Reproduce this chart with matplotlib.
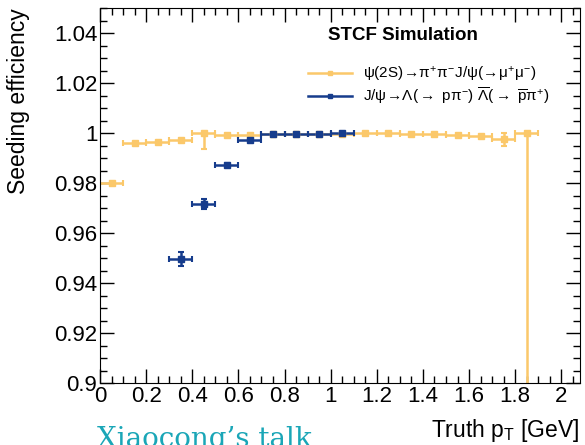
import matplotlib
matplotlib.use("Agg")
import matplotlib.pyplot as plt
from matplotlib.ticker import MultipleLocator
from matplotlib.lines import Line2D

plt.rcParams['font.family'] = ['Liberation Sans', 'DejaVu Sans']
plt.rcParams['mathtext.fontset'] = 'custom'
plt.rcParams['mathtext.rm'] = 'Liberation Sans'
plt.rcParams['mathtext.it'] = 'Liberation Sans'

# psi(2S) -> pi pi J/psi(-> mu mu), bins of 0.1 GeV
psi_pt = [0.05, 0.15, 0.25, 0.35, 0.45, 0.55, 0.65, 0.75, 0.85, 0.95, 1.05,
          1.15, 1.25, 1.35, 1.45, 1.55, 1.65, 1.75, 1.85]
psi_eff = [0.980, 0.9961, 0.9966, 0.9972, 1.000, 0.9994, 0.9994, 0.9996, 0.9996,
           0.9996, 0.9998, 1.000, 1.000, 0.9997, 0.9996, 0.9992, 0.9987, 0.9977, 1.000]
psi_err_lo = [0.0003, 0.0003, 0.0003, 0.0003, 0.0064, 0.0003, 0.0002, 0.0001, 0.0001,
              0.0001, 0.0001, 0.0001, 0.0001, 0.0001, 0.0002, 0.0002, 0.0003, 0.0027, 0.2]
psi_err_hi = [0.0003, 0.0003, 0.0003, 0.0003, 0.0, 0.0003, 0.0002, 0.0001, 0.0001,
              0.0001, 0.0001, 0.0, 0.0, 0.0001, 0.0002, 0.0002, 0.0003, 0.0023, 0.0]

# J/psi -> Lambda Lambdabar
lam_pt = [0.35, 0.45, 0.55, 0.65, 0.75, 0.85, 0.95, 1.05]
lam_eff = [0.9496, 0.9716, 0.9873, 0.9971, 0.9996, 0.9996, 0.9996, 0.9999]
lam_err = [0.0027, 0.0020, 0.0007, 0.0004, 0.0002, 0.0002, 0.0002, 0.0001]

bin_half = 0.05

yellow = '#fbc86a'
blue = '#163c8c'

fig = plt.figure(figsize=(5.85, 4.45), dpi=100)
ax = fig.add_axes([0.171, 0.139, 0.820, 0.843])

ax.errorbar(psi_pt, psi_eff, yerr=[psi_err_lo, psi_err_hi], xerr=bin_half,
            fmt='s', color=yellow, ms=4, lw=1.8, capsize=2, capthick=1.5)
ax.errorbar(lam_pt, lam_eff, yerr=lam_err, xerr=bin_half,
            fmt='s', color=blue, ms=4, lw=1.8, capsize=2, capthick=1.5)

ax.set_xlim(0, 2.08)
ax.set_ylim(0.9, 1.05)
ax.xaxis.set_minor_locator(MultipleLocator(0.05))
ax.yaxis.set_minor_locator(MultipleLocator(0.005))
ax.set_xticks([0, 0.2, 0.4, 0.6, 0.8, 1, 1.2, 1.4, 1.6, 1.8, 2])
ax.set_xticklabels(['0', '0.2', '0.4', '0.6', '0.8', '1', '1.2', '1.4', '1.6', '1.8', '2'])
ax.set_yticks([0.9, 0.92, 0.94, 0.96, 0.98, 1.0, 1.02, 1.04])
ax.set_yticklabels(['0.9', '0.92', '0.94', '0.96', '0.98', '1', '1.02', '1.04'])
ax.tick_params(which='both', direction='in', top=True, right=True, labelsize=16, width=1)
ax.tick_params(which='major', length=10, pad=2)
ax.tick_params(which='minor', length=5)

ax.set_ylabel('Seeding efficiency', fontsize=16.5, loc='top')
ax.yaxis.set_label_coords(-0.145, 1.0)
ax.set_xlabel(r'Truth p$_{\mathrm{T}}$ [GeV]', fontsize=16.5, loc='right')
ax.xaxis.set_label_coords(1.0, -0.09)

ax.text(0.475, 0.915, 'STCF Simulation', transform=ax.transAxes,
        fontsize=13.5, fontweight='bold')

handles = [Line2D([0], [0], color=yellow, lw=1.8, marker='s', ms=3),
           Line2D([0], [0], color=blue, lw=1.8, marker='s', ms=3)]
labels = [r'$\psi(2S)\!\rightarrow\!\pi^{+}\pi^{-}J/\psi(\!\rightarrow\!\mu^{+}\mu^{-})$',
          r'$J/\psi\!\rightarrow\!\Lambda(\rightarrow\ p\pi^{-})\ \overline{\Lambda}(\rightarrow\ \overline{p}\pi^{+})$']
ax.legend(handles, labels, loc='upper left', bbox_to_anchor=(0.405, 0.885),
          frameon=False, fontsize=11, handlelength=2.9, handletextpad=0.7,
          labelspacing=0.12)

fig.text(0.165, -0.018, 'Xiaocong\u2019s talk', color='#1aa6b7', fontsize=20,
         family='DejaVu Serif', va='bottom')

fig.savefig('out.png', dpi=100)
